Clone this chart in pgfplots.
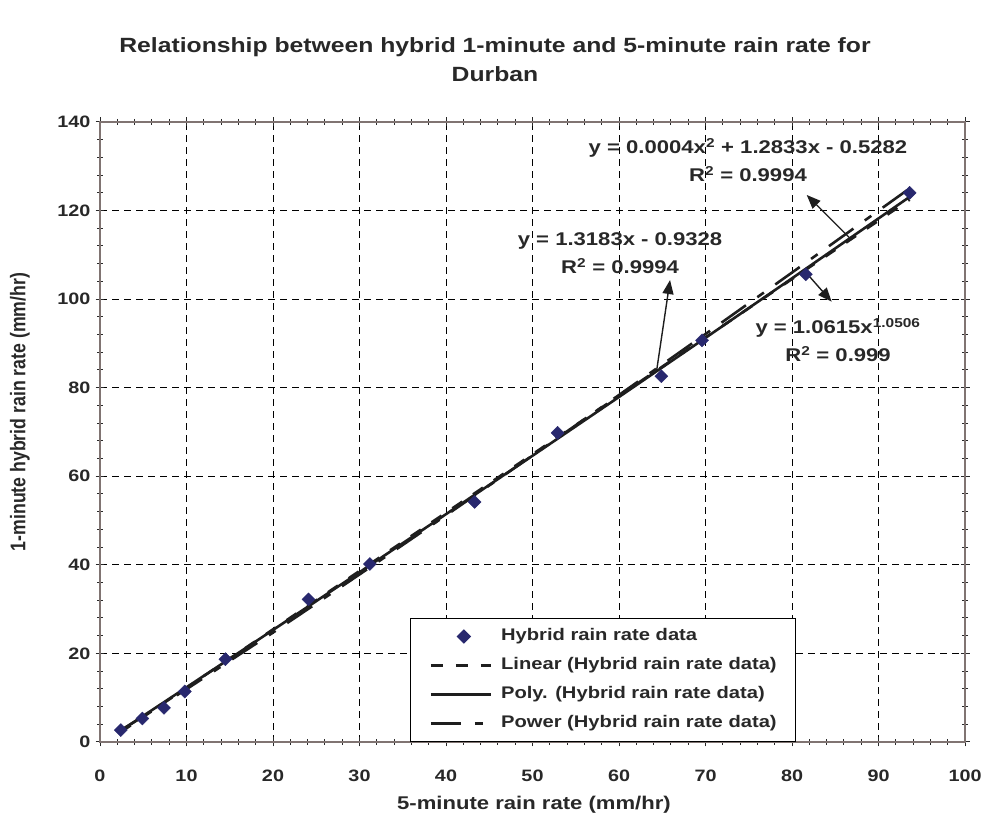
\documentclass[border=0pt]{standalone}
\usepackage{fontspec}
\usepackage{graphicx}
% The chart's lettering is a slightly widened Arial-style face
\setmainfont[FakeStretch=1.2]{Liberation Sans}
\newfontfamily\plainsans{Liberation Sans}
\usepackage{pgfplots}
\pgfplotsset{compat=1.18}
\usetikzlibrary{arrows.meta}

\definecolor{txt}{RGB}{40,40,40}
\definecolor{framecol}{RGB}{128,116,114}
\definecolor{marknavy}{RGB}{40,40,110}
\definecolor{trend}{RGB}{30,30,30}

% Durban: hybrid 1-minute vs 5-minute rain rate (mm/hr)
\pgfplotstableread{
x     y
2.4   2.7
4.9   5.3
7.4   7.7
9.8   11.4
14.5  18.7
24.1  32.2
31.2  40.2
43.3  54.2
52.9  69.8
64.9  82.6
69.6  90.7
81.6  105.6
93.6  124.0
}\hybriddata

% Fitted trendlines, evaluated over the data range
\pgfplotstableread{
x     y
2.4   2.231
93.6  122.460
}\lineardata

\pgfplotstableread{
x     y
2.4   2.554
10    12.345
20    25.298
30    38.331
40    51.444
50    64.637
60    77.910
70    91.263
80    104.696
93.6  123.093
}\polydata

\pgfplotstableread{
x     y
2.4   2.663
5     5.758
10    11.927
20    24.706
30    37.826
40    51.173
50    64.693
60    78.352
70    92.126
80    106.000
93.6  125.010
}\powerdata

\begin{document}
\begin{tikzpicture}[x=1bp,y=1bp]
\path[use as bounding box] (0,0) rectangle (987,816);

\node[align=center, font=\fontsize{20.6bp}{29bp}\selectfont\bfseries, text=txt]
  at (495,756) {Relationship between hybrid 1-minute and 5-minute rain rate for\\Durban};

\node[font=\fontsize{18.4bp}{22bp}\selectfont\bfseries, text=txt] at (534,11) {5-minute rain rate (mm/hr)};
\node[text=txt, rotate=90] at (20,404)
  {\scalebox{1}[1.2]{\plainsans\fontsize{17.7bp}{21bp}\selectfont\bfseries 1-minute hybrid rain rate (mm/hr)}};

\begin{axis}[
  at={(100bp,74bp)}, anchor=south west,
  scale only axis, width=865bp, height=620bp,
  xmin=0, xmax=100, ymin=0, ymax=140,
  xtick={0,10,...,100}, ytick={0,20,...,140},
  minor x tick num=4, minor y tick num=4,
  tick align=center,
  major tick length=9bp, minor tick length=6bp,
  every tick/.style={line width=1bp, color=txt},
  axis line style={framecol, line width=1.6bp},
  grid=major,
  major grid style={black, line width=0.8bp, dash pattern=on 7bp off 5bp},
  /pgf/number format/assume math mode=true,
  tick label style={font=\fontsize{16.5bp}{20bp}\selectfont\bfseries, text=txt},
  yticklabel style={anchor=east, inner sep=0pt, xshift=-5bp},
  xticklabel style={anchor=north, inner sep=0pt, yshift=-23bp},
  legend style={at={(axis description cs:0.3584,0)}, anchor=south west,
    draw=black, line width=1bp, fill=white,
    font=\fontsize{16.8bp}{20bp}\selectfont\bfseries, text=txt,
    inner xsep=19bp, inner ysep=10bp, row sep=13bp,
    nodes={inner sep=0bp, text height=12bp, text depth=4bp},
    /tikz/every odd column/.append style={column sep=9bp}},
  legend cell align=left,
  legend image code/.code={\draw[#1] (0bp,0bp) -- (60bp,0bp);},
]

\addplot[only marks, mark=square*, mark size=4.6bp, mark options={rotate=45},
  color=marknavy, fill=marknavy,
  legend image code/.code={\draw[##1] plot coordinates {(33bp,0bp)};}]
  table[x=x,y=y] {\hybriddata};
\addlegendentry{Hybrid rain rate data}

\addplot[trend, line width=2.6bp, dash pattern=on 12bp off 13bp] table[x=x,y=y] {\lineardata};
\addlegendentry{Linear (Hybrid rain rate data)}

\addplot[trend, line width=2.6bp] table[x=x,y=y] {\polydata};
\addlegendentry{Poly. (Hybrid rain rate data)}

\addplot[trend, line width=2.6bp, dash pattern=on 30bp off 14bp on 8bp off 14bp] table[x=x,y=y] {\powerdata};
\addlegendentry{Power (Hybrid rain rate data)}

% Trendline equations with leader arrows
\node[align=center, font=\fontsize{18.4bp}{28bp}\selectfont\bfseries, text=txt]
  at (axis cs:74.91,131.42) {y = 0.0004x\textsuperscript{2} + 1.2833x - 0.5282\\R\textsuperscript{2} = 0.9994};
\node[align=center, font=\fontsize{18.4bp}{28bp}\selectfont\bfseries, text=txt]
  at (axis cs:60.12,110.31) {y = 1.3183x - 0.9328\\R\textsuperscript{2} = 0.9994};
\node[align=center, font=\fontsize{18.4bp}{28bp}\selectfont\bfseries, text=txt]
  at (axis cs:85.32,90.77) {y = 1.0615x\textsuperscript{1.0506}\\R\textsuperscript{2} = 0.999};

\draw[trend, line width=1.4bp, -{Triangle[length=14bp,width=11bp]}]
  (axis cs:64.36,83.99) -- (axis cs:65.90,104.31);
\draw[trend, line width=1.4bp, -{Triangle[length=14bp,width=11bp]}]
  (axis cs:86.90,113.36) -- (axis cs:81.70,123.52);
\draw[trend, line width=1.4bp, -{Triangle[length=14bp,width=11bp]}]
  (axis cs:81.70,105.82) -- (axis cs:84.59,99.41);

\end{axis}
\end{tikzpicture}
\end{document}
